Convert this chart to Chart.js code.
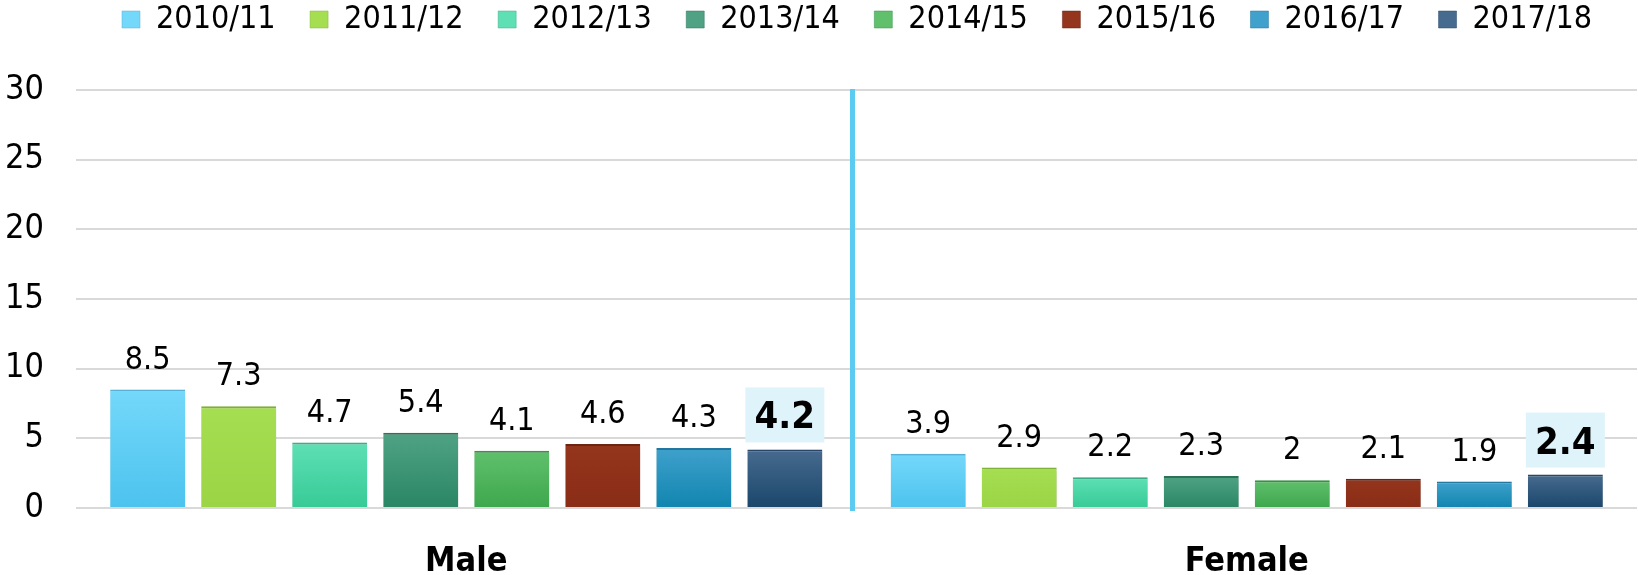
<!DOCTYPE html>
<html>
<head>
<meta charset="utf-8">
<script src="https://cdn.jsdelivr.net/npm/chart.js@4.4.1/dist/chart.umd.min.js"></script>
<style>
html,body{margin:0;padding:0;background:#fff;}
#wrap{width:1638px;height:575px;}
</style>
</head>
<body>
<div id="wrap"><canvas id="c" width="1638" height="575"></canvas></div>
<script>
// ---- data ----
const categories = ['Male', 'Female'];
const seriesLabels = ['2010/11', '2011/12', '2012/13', '2013/14', '2014/15', '2015/16', '2016/17', '2017/18'];
const v2010 = [8.5, 3.9];
const v2011 = [7.3, 2.9];
const v2012 = [4.7, 2.2];
const v2013 = [5.4, 2.3];
const v2014 = [4.1, 2.0];
const v2015 = [4.6, 2.1];
const v2016 = [4.3, 1.9];
const v2017 = [4.2, 2.4];
const seriesValues = [v2010, v2011, v2012, v2013, v2014, v2015, v2016, v2017];
const yMin = 0, yMax = 30, yStep = 5;

// ---- styles ----
const FONT = '"DejaVu Sans Condensed", "DejaVu Sans", sans-serif';
const topColors    = ['#74d8fa', '#a5de50', '#5ee0b4', '#4fa384', '#60c06c', '#94351d', '#3fa1cc', '#476b8f'];
const bottomColors = ['#4cc3ee', '#9bd546', '#37ca97', '#2a8665', '#3ea74d', '#8a2d16', '#1085af', '#1a466b'];
const solidColors  = ['#5ccbf2', '#a0da4a', '#46d3a3', '#389272', '#4db25a', '#8f3119', '#2592bd', '#30597d'];
const edgeColors   = ['#58b3d6', '#80b43a', '#3fae8a', '#2f7458', '#3a944a', '#6e2412', '#2478a0', '#28486a'];

function barFill(i) {
  return (ctx) => {
    if (ctx.type !== 'data') return solidColors[i];
    const y = ctx.chart.scales.y;
    if (!y || y.top === undefined) return solidColors[i];
    const top = y.getPixelForValue(ctx.raw);
    const base = y.getPixelForValue(0);
    const g = ctx.chart.ctx.createLinearGradient(0, top, 0, base);
    g.addColorStop(0, topColors[i]);
    g.addColorStop(1, bottomColors[i]);
    return g;
  };
}

const datasets = seriesLabels.map((lab, i) => ({
  label: lab,
  data: seriesValues[i],
  backgroundColor: barFill(i),
  borderColor: edgeColors[i],
  borderWidth: {top: 2, left: 0, right: 0, bottom: 0},
  borderSkipped: 'start',
  categoryPercentage: 0.933,
  barPercentage: 0.824
}));

const shadowPlugin = {
  id: 'barShadow',
  beforeDatasetDraw(chart) {
    const c = chart.ctx;
    c.save();
    c.shadowColor = 'rgba(0,0,0,0.22)';
    c.shadowBlur = 4;
    c.shadowOffsetX = 2;
    c.shadowOffsetY = 2;
  },
  afterDatasetDraw(chart) {
    chart.ctx.restore();
  }
};

// place the legend row: first box at x=125, row top near the page top
const legendShift = {
  id: 'legendShift',
  afterLayout(chart) {
    const lg = chart.legend;
    const pad = lg.options.labels.padding;
    const dy = (3.5 - pad) - lg.top;
    lg.top += dy; lg.bottom += dy;
    const lw = lg.lineWidths ? lg.lineWidths[0] : 0;
    const start = (lg.left + pad + lg.right - lw) / 2;
    const dx = 122 - start;
    lg.left += dx; lg.right += dx;
  }
};

const dividerPlugin = {
  id: 'divider',
  afterDatasetsDraw(chart) {
    const x = chart.scales.x, y = chart.scales.y;
    const xm = (x.getPixelForValue(0) + x.getPixelForValue(1)) / 2 - 4;
    const c = chart.ctx;
    c.save();
    c.strokeStyle = '#5ccbf1';
    c.lineWidth = 5;
    c.beginPath();
    c.moveTo(xm, y.getPixelForValue(yMax) - 1);
    c.lineTo(xm, y.getPixelForValue(0) + 3);
    c.stroke();
    c.restore();
  }
};

const labelPlugin = {
  id: 'valueLabels',
  afterDatasetsDraw(chart) {
    const c = chart.ctx;
    const last = chart.data.datasets.length - 1;
    c.save();
    chart.data.datasets.forEach((ds, i) => {
      const meta = chart.getDatasetMeta(i);
      meta.data.forEach((el, j) => {
        const txt = String(ds.data[j]);
        const x = el.x, y = el.y;
        c.textAlign = 'center';
        c.textBaseline = 'alphabetic';
        if (i === last) {
          c.fillStyle = '#dff3fa';
          c.fillRect(x - 39.5, y - 62, 79, 55);
          c.fillStyle = '#000';
          c.font = 'bold 38px ' + FONT;
          c.fillText(txt, x, y - 21);
        } else {
          c.fillStyle = '#000';
          c.font = '32px ' + FONT;
          c.fillText(txt, x, y - 21);
        }
      });
    });
    c.restore();
  }
};

new Chart(document.getElementById('c'), {
  type: 'bar',
  data: { labels: categories, datasets },
  options: {
    responsive: false,
    animation: false,
    layout: { padding: { top: 13.5, bottom: 0, left: 0, right: 1 } },
    plugins: {
      legend: {
        position: 'top',
        align: 'center',
        labels: {
          font: { family: FONT, size: 32 },
          color: '#000',
          boxWidth: 18,
          boxHeight: 17,
          padding: 34.5
        }
      },
      tooltip: { enabled: false }
    },
    scales: {
      x: {
        afterFit(s) { s.height = 67; },
        grid: { display: false },
        border: { display: false },
        ticks: {
          color: '#000',
          font: { family: FONT, size: 34, weight: 'bold' },
          padding: 26
        }
      },
      y: {
        min: yMin,
        max: yMax,
        afterFit(s) { s.width = 76; },
        grid: { color: '#d9d9d9', lineWidth: 2, drawTicks: false },
        border: { display: false },
        ticks: {
          stepSize: yStep,
          color: '#000',
          font: { family: FONT, size: 34 },
          padding: 32
        }
      }
    }
  },
  plugins: [shadowPlugin, legendShift, dividerPlugin, labelPlugin]
});
</script>
</body>
</html>
